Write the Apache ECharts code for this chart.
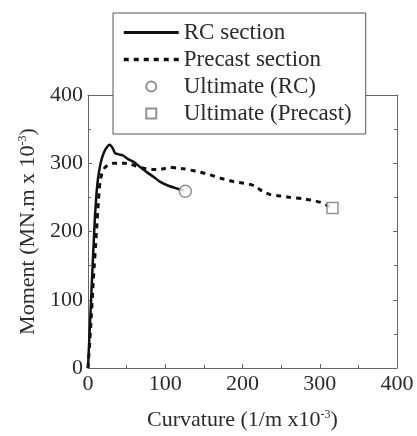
<!DOCTYPE html>
<html>
<head>
<meta charset="utf-8">
<script src="https://cdn.jsdelivr.net/npm/echarts@6/dist/echarts.min.js"></script>
<style>html,body{margin:0;padding:0;background:#fff;}#c{width:417px;height:436px;}</style>
</head>
<body>
<div id="c"></div>
<script>
// Data
const rcCurvature = [0, 3, 6, 9, 11, 13, 16, 19, 23, 28, 32, 35, 40, 46, 52, 59, 67, 76, 85, 93, 104, 115, 124];
const rcMoment    = [0, 75, 150, 222, 255, 278, 298, 311, 321, 327, 322, 315, 313, 311, 306, 302, 295, 287, 280, 273, 267, 263, 260];
const precastCurvature = [0, 3.5, 7, 11, 13.5, 15.6, 18, 22, 27, 33, 40, 47, 54.5, 62, 70, 76, 84, 90, 98, 106.5, 115, 124, 132.5, 145, 158, 172, 189, 200, 210, 217, 223, 230, 236, 250, 262, 278, 293, 303, 310, 316.5];
const precastMoment    = [0, 60, 130, 200, 245, 273, 285, 294, 298, 300, 300, 300, 299, 296, 293, 292, 291, 291, 292, 294, 293, 292, 290, 287, 283, 278, 273, 271, 269, 266, 261, 257, 254, 252, 250, 248, 245, 242, 238, 234.5];
const ultimateRC = [126, 259];
const ultimatePrecast = [316.5, 234.5];
const xTicks = [0, 100, 200, 300, 400];
const yTicks = [0, 100, 200, 300, 400];

const font = 'Liberation Serif';
const textColor = '#2a2a2a';
const axisColor = '#666';
const zip = (xs, ys) => xs.map((x, i) => [x, ys[i]]);

const baseAxis = {
  min: 0, max: 400, interval: 100,
  axisLine: {show: true, onZero: false, lineStyle: {color: axisColor, width: 1}},
  axisTick: {show: true, inside: true, length: 4, lineStyle: {color: axisColor}},
  minorTick: {show: true, splitNumber: 2, length: 3, lineStyle: {color: axisColor}},
  splitLine: {show: false},
  axisLabel: {show: true, fontFamily: font, fontSize: 22, color: textColor, margin: 5}
};
const supRich = {sup: {fontFamily: font, fontSize: 12, color: textColor, verticalAlign: 'top', padding: [0,0,8,0]}};

const chart = echarts.init(document.getElementById('c'));
chart.setOption({
  animation: false,
  backgroundColor: '#fff',
  grid: {left: 88, right: 20, top: 95, bottom: 63},
  legend: {
    orient: 'vertical',
    left: 113, top: 13,
    padding: [6, 14, 7, 9],
    backgroundColor: '#fff',
    borderColor: '#555', borderWidth: 1,
    itemWidth: 55, itemHeight: 10, itemGap: 0,
    z: 10,
    textStyle: {fontFamily: font, fontSize: 23, color: textColor, lineHeight: 27},
    data: [
      {name: 'RC section', itemStyle: {opacity: 0}, lineStyle: {width: 3, type: 'solid', color: '#111'}},
      {name: 'Precast section', itemStyle: {opacity: 0}, lineStyle: {width: 3.5, type: [5, 5], color: '#111'}},
      {name: 'Ultimate (RC)', icon: 'circle'},
      {name: 'Ultimate (Precast)', icon: 'path://M0,0L10,0L10,10L0,10Z'}
    ]
  },
  xAxis: [
    Object.assign({}, baseAxis, {
      type: 'value', position: 'bottom',
      name: 'Curvature (1/m x10{sup|-3})',
      nameLocation: 'middle', nameGap: 41,
      nameTextStyle: {fontFamily: font, fontSize: 22, color: textColor, rich: supRich},
      axisLabel: Object.assign({}, baseAxis.axisLabel, {formatter: v => xTicks.includes(v) ? String(v) : ''})
    }),
    Object.assign({}, baseAxis, {type: 'value', position: 'top', axisLabel: {show: false}})
  ],
  yAxis: [
    Object.assign({}, baseAxis, {
      type: 'value', position: 'left',
      name: 'Moment (MN.m x 10{sup|-3})',
      nameLocation: 'middle', nameGap: 46,
      nameTextStyle: {fontFamily: font, fontSize: 22, color: textColor, rich: supRich},
      axisLabel: Object.assign({}, baseAxis.axisLabel, {formatter: v => yTicks.includes(v) ? String(v) : ''})
    }),
    Object.assign({}, baseAxis, {type: 'value', position: 'right', axisLabel: {show: false}})
  ],
  series: [
    {
      name: 'RC section', type: 'line', symbol: 'none', smooth: 0.2,
      lineStyle: {color: '#111', width: 2.5, type: 'solid'},
      itemStyle: {color: '#111'},
      data: zip(rcCurvature, rcMoment), z: 3
    },
    {
      name: 'Precast section', type: 'line', symbol: 'none', smooth: 0.2,
      lineStyle: {color: '#111', width: 3, type: [5, 5]},
      itemStyle: {color: '#111'},
      data: zip(precastCurvature, precastMoment), z: 2
    },
    {
      name: 'Ultimate (RC)', type: 'scatter', symbol: 'circle', symbolSize: 12,
      itemStyle: {color: '#fff', borderColor: '#777', borderWidth: 1.5},
      data: [ultimateRC], z: 4
    },
    {
      name: 'Ultimate (Precast)', type: 'scatter', symbol: 'rect', symbolSize: 11,
      itemStyle: {color: '#fff', borderColor: '#777', borderWidth: 1.5},
      data: [ultimatePrecast], z: 4
    }
  ]
});
</script>
</body>
</html>
